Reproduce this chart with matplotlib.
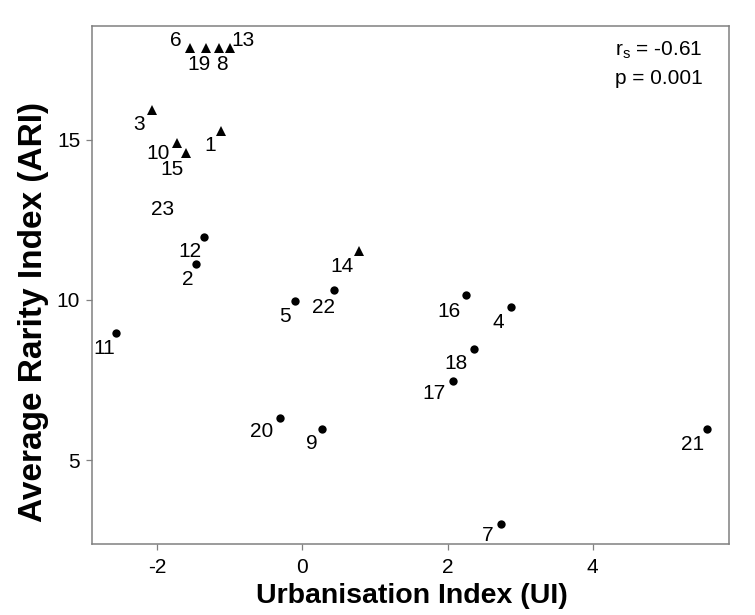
import matplotlib
matplotlib.use("Agg")
import matplotlib.pyplot as plt

plt.rcParams["font.family"] = ["Liberation Sans", "DejaVu Sans"]
plt.rcParams["mathtext.fontset"] = "custom"
plt.rcParams["mathtext.rm"] = "Liberation Sans"
plt.rcParams["mathtext.it"] = "Liberation Sans"
plt.rcParams["axes.unicode_minus"] = False

# --------------------------------------------------------
# Dados
# --------------------------------------------------------
sites = [str(i) for i in range(1, 24)]
ui = [-1.12, -1.47, -2.07, 2.87, -0.10, -1.54, 2.73, -1.15, 0.27, -1.72,
      -2.57, -1.35, -0.99, 0.78, -1.60, 2.25, 2.07, 2.37, -1.33, -0.31,
      5.57, 0.44, -1.75]
ari = [15.28, 11.13, 15.94, 9.77, 9.98, 17.88, 2.99, 17.88, 5.98, 14.92,
       8.97, 11.96, 17.88, 11.53, 14.58, 10.15, 7.48, 8.46, 17.88, 6.32,
       5.97, 10.30, 13.30]
grupo = ["tri", "circ", "tri", "circ", "circ", "tri", "circ", "tri", "circ", "tri",
         "circ", "circ", "tri", "tri", "tri", "circ", "circ", "circ", "tri", "circ",
         "circ", "circ", "none"]
x_ticks = [-2, 0, 2, 4]
y_ticks = [5, 10, 15]
rs_text = r"r$_\mathrm{s}$ = -0.61"
p_text = "p = 0.001"

# deslocamento dos rótulos (pixels: dx, dy para baixo, centro do texto)
desloc = {
    "1": (-10.5, 13), "2": (-8, 14), "3": (-12.5, 12.5), "4": (-12.3, 13.5),
    "5": (-9.7, 13.8), "6": (-14.4, -9.7), "7": (-12.7, 9), "8": (2.7, 14.5),
    "9": (-10.3, 12.7), "10": (-19.8, 8.5), "11": (-11.5, 13.5), "12": (-14.3, 12.7),
    "13": (13, -9.7), "14": (-16.5, 13), "15": (-14.3, 14.2), "16": (-16.6, 14),
    "17": (-18.7, 11), "18": (-18, 12), "19": (-7, 14.5), "20": (-18, 12),
    "21": (-13.9, 14), "22": (-10.3, 15), "23": (-13, 13),
}

cinza = "#808080"
fs = 15

fig = plt.figure(figsize=(7.55, 6.15), dpi=100)
ax = fig.add_axes([0.1215, 0.1154, 0.8445, 0.8423])

for g, m, ms in [("tri", "^", 7), ("circ", "o", 6)]:
    xs = [x for x, gg in zip(ui, grupo) if gg == g]
    ys = [y for y, gg in zip(ari, grupo) if gg == g]
    ax.plot(xs, ys, m, color="black", markersize=ms, markeredgewidth=0)

for s, x, y in zip(sites, ui, ari):
    dx, dy = desloc[s]
    ax.annotate(s, (x, y), xytext=(dx, -(dy + 7.5)), textcoords="offset pixels",
                ha="center", va="baseline", fontsize=fs, color="black")

ax.text(0.821, 0.942, rs_text, transform=ax.transAxes, fontsize=fs,
        ha="left", va="baseline", color="black")
ax.text(0.821, 0.888, p_text, transform=ax.transAxes, fontsize=fs,
        ha="left", va="baseline", color="black")

ax.set_xlim(-2.90, 5.88)
ax.set_ylim(2.375, 18.56)
ax.set_xticks(x_ticks)
ax.set_yticks(y_ticks)
ax.tick_params(direction="out", length=4.3, width=0.9, color=cinza,
               labelsize=fs, labelcolor="black")
ax.tick_params(axis="x", pad=6)
ax.tick_params(axis="y", pad=4)
for sp in ax.spines.values():
    sp.set_color(cinza)
    sp.set_linewidth(1.1)

fig.text(0.545, 0.031, "Urbanisation Index (UI)", ha="center", va="center",
         fontsize=20.5, fontweight="bold")
fig.text(0.045, 0.493, "Average Rarity Index (ARI)", ha="center", va="center",
         rotation=90, fontsize=24, fontweight="bold")

fig.savefig("out.png", dpi=100)
